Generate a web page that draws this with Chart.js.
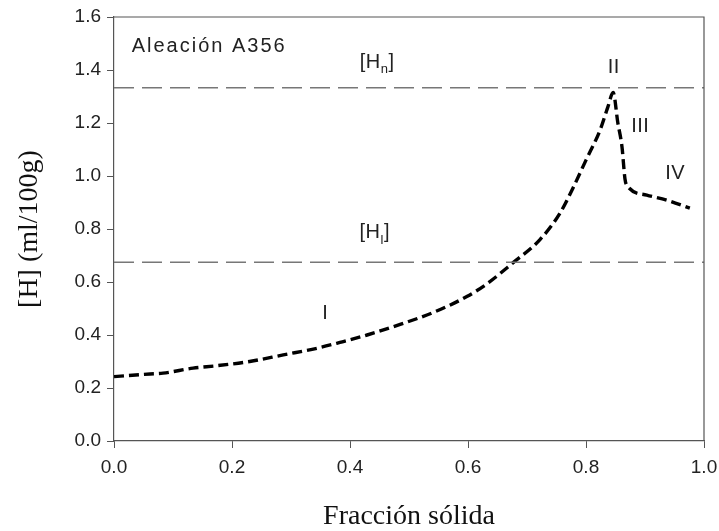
<!DOCTYPE html>
<html>
<head>
<meta charset="utf-8">
<script src="https://cdn.jsdelivr.net/npm/chart.js@4/dist/chart.umd.min.js"></script>
<style>
  html, body { margin: 0; padding: 0; background: #fff; }
  #wrap { width: 719px; height: 531px; }
</style>
</head>
<body>
<div id="wrap"><canvas id="chart_elem" width="719" height="531"></canvas></div>
<script>
// curve
const fracSolida = [0, 0.061, 0.083, 0.134, 0.174, 0.23, 0.287, 0.344, 0.383, 0.429, 0.485, 0.541, 0.598, 0.632, 0.676, 0.722, 0.756, 0.778, 0.80, 0.824, 0.837, 0.846, 0.854, 0.861, 0.866, 0.869, 0.903, 0.937, 0.976];
const hidrogeno  = [0.243, 0.253, 0.256, 0.275, 0.284, 0.30, 0.325, 0.35, 0.372, 0.4, 0.44, 0.485, 0.545, 0.593, 0.672, 0.76, 0.86, 0.955, 1.06, 1.174, 1.26, 1.315, 1.2, 1.11, 0.99, 0.966, 0.928, 0.909, 0.879];

// reference levels
const nivelHn = 1.333;
const nivelHl = 0.675;

// text annotations
const notas    = ['Aleación A356', '[H', 'II', 'III', 'IV', '[H', 'I'];
const notasSub = ['', 'n', '', '', '', 'l', ''];
const notasX   = [0.03, 0.446, 0.847, 0.892, 0.951, 0.442, 0.358];
const notasY   = [1.49, 1.43, 1.41, 1.185, 1.01, 0.785, 0.48];

const puntos = fracSolida.map((x, i) => ({ x: x, y: hidrogeno[i] }));

const FONT = '"Liberation Sans", Arial, sans-serif';
const SERIF = '"Liberation Serif", "Times New Roman", serif';

const frame = {
  id: 'frame',
  afterDatasetsDraw(chart) {
    const { ctx, chartArea: a, scales } = chart;
    ctx.save();
    ctx.strokeStyle = '#555';
    ctx.lineWidth = 1.2;
    ctx.beginPath();
    ctx.moveTo(a.left, a.top);
    ctx.lineTo(a.right, a.top);
    ctx.lineTo(a.right, a.bottom);
    ctx.stroke();

    ctx.fillStyle = '#222';
    ctx.textBaseline = 'middle';
    notas.forEach((t, i) => {
      const px = scales.x.getPixelForValue(notasX[i]);
      const py = scales.y.getPixelForValue(notasY[i]);
      ctx.letterSpacing = i === 0 ? '2px' : '0.5px';
      ctx.font = '20px ' + FONT;
      ctx.textAlign = i === 0 ? 'left' : 'center';
      if (notasSub[i]) {
        // bracket + subscript + bracket
        const w1 = ctx.measureText(t).width;
        ctx.font = '13px ' + FONT;
        const w2 = ctx.measureText(notasSub[i]).width;
        ctx.font = '20px ' + FONT;
        const w3 = ctx.measureText(']').width;
        const sx = px - (w1 + w2 + w3) / 2;
        ctx.textAlign = 'left';
        ctx.fillText(t, sx, py);
        ctx.font = '13px ' + FONT;
        ctx.fillText(notasSub[i], sx + w1, py + 7);
        ctx.font = '20px ' + FONT;
        ctx.fillText(']', sx + w1 + w2, py);
      } else {
        ctx.fillText(t, px, py);
      }
    });
    ctx.restore();
  }
};

const config = {
  type: 'scatter',
  data: {
    datasets: [
      {
        label: 'Hn',
        data: [{ x: 0, y: nivelHn }, { x: 1.0, y: nivelHn }],
        showLine: true,
        borderColor: '#777',
        borderWidth: 1.5,
        borderDash: [20, 8],
        pointRadius: 0
      },
      {
        label: 'Hl',
        data: [{ x: 0, y: nivelHl }, { x: 1.0, y: nivelHl }],
        showLine: true,
        borderColor: '#777',
        borderWidth: 1.5,
        borderDash: [20, 8],
        pointRadius: 0
      },
      {
        label: '[H]',
        data: puntos,
        showLine: true,
        borderColor: '#000',
        borderWidth: 3.4,
        borderDash: [10, 5],
        cubicInterpolationMode: 'monotone',
        pointRadius: 0
      }
    ]
  },
  options: {
    responsive: false,
    animation: false,
    layout: { padding: { top: 17, right: 15 } },
    plugins: {
      legend: { display: false },
      tooltip: { enabled: false }
    },
    scales: {
      x: {
        type: 'linear',
        min: 0, max: 1.0,
        afterFit: (s) => { s.height = 90; s.paddingRight = 0; s.paddingLeft = 0; },
        border: { display: true, color: '#555', width: 1.2 },
        grid: { drawOnChartArea: false, drawTicks: true, tickLength: 7, color: '#555' },
        ticks: {
          stepSize: 0.2,
          color: '#222',
          padding: 8,
          font: { family: FONT, size: 19 },
          callback: (v) => v.toFixed(1)
        },
        title: {
          display: true,
          text: 'Fracción sólida',
          color: '#111',
          padding: { top: 18, bottom: -2 },
          font: { family: SERIF, size: 28 }
        }
      },
      y: {
        type: 'linear',
        min: 0, max: 1.6,
        afterFit: (s) => { s.width = 114; s.paddingTop = 0; s.paddingBottom = 0; },
        border: { display: true, color: '#555', width: 1.2 },
        grid: { drawOnChartArea: false, drawTicks: true, tickLength: 7, color: '#555' },
        ticks: {
          stepSize: 0.2,
          color: '#222',
          padding: 6,
          font: { family: FONT, size: 19 },
          callback: (v) => v.toFixed(1)
        },
        title: {
          display: true,
          text: '[H] (ml/100g)',
          color: '#111',
          padding: { top: 13, bottom: 2 },
          font: { family: SERIF, size: 28 }
        }
      }
    }
  },
  plugins: [frame]
};

const chart = new Chart(document.getElementById('chart_elem').getContext('2d'), config);
</script>
</body>
</html>
